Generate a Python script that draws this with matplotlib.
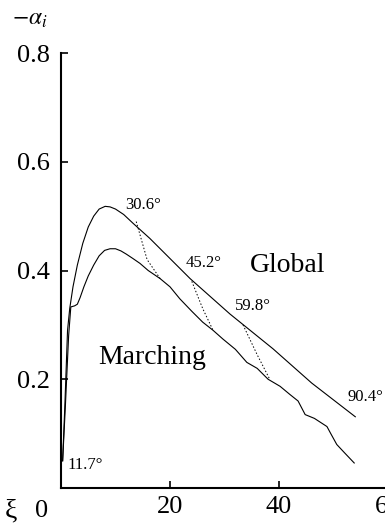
import matplotlib.pyplot as plt

# datos
global_xi = [0.3, 0.7, 1.2, 1.6, 2.2, 3.0, 4.0, 5.0, 6.0, 7.0, 8.1, 9.0, 10.0, 11.5, 13.2,
             16.3, 23.7, 31.0, 38.9, 46.0, 54.0]
global_a = [0.05, 0.15, 0.29, 0.33, 0.37, 0.41, 0.45, 0.48, 0.50, 0.513, 0.518, 0.517, 0.513,
            0.503, 0.487, 0.459, 0.385, 0.32, 0.256, 0.193, 0.131]

march_xi = [0.3, 0.8, 1.4, 1.8, 2.5, 3.0, 3.5, 4.2, 5.0, 6.0, 7.0, 8.0, 9.0, 10.0, 11.0, 12.0,
            13.2, 14.5, 16.0, 18.2, 20.0, 21.8, 24.0, 26.0, 27.9, 29.7, 32.0, 34.1, 36.0, 38.0,
            40.2, 42.0, 43.5, 44.8, 46.5, 48.8, 49.5, 50.6, 52.0, 53.8]
march_a = [0.05, 0.15, 0.28, 0.333, 0.335, 0.338, 0.35, 0.37, 0.39, 0.41, 0.427, 0.437, 0.44,
           0.44, 0.436, 0.43, 0.422, 0.413, 0.40, 0.385, 0.37, 0.348, 0.325, 0.305, 0.29, 0.274,
           0.255, 0.231, 0.22, 0.20, 0.187, 0.172, 0.16, 0.135, 0.128, 0.113, 0.10, 0.08, 0.065,
           0.046]

# transiciones (punteadas)
trans_xi = [[13.8, 15.8, 18.2], [24.0, 26.0, 27.9], [33.4, 36.0, 38.3]]
trans_a = [[0.49, 0.42, 0.385], [0.38, 0.33, 0.29], [0.30, 0.245, 0.20]]

angle_labels = ['11.7°', '30.6°', '45.2°', '59.8°', '90.4°']
angle_xi = [1.1, 11.7, 22.8, 31.9, 52.5]
angle_a = [0.043, 0.52, 0.413, 0.335, 0.167]

plt.rcParams['font.family'] = ['Liberation Serif', 'DejaVu Serif']
plt.rcParams['mathtext.fontset'] = 'stix'

fig = plt.figure(figsize=(3.85, 5.27), dpi=100)
ax = fig.add_axes([61 / 385, 39 / 527, 327 / 385, 435 / 527])

ax.plot(global_xi, global_a, color='black', lw=0.8)
ax.plot(march_xi, march_a, color='black', lw=0.8)
for tx, ta in zip(trans_xi, trans_a):
    ax.plot(tx, ta, color='black', lw=0.7, ls=(0, (1.5, 2)))

for lab, x, y in zip(angle_labels, angle_xi, angle_a):
    ax.text(x, y, lab, fontsize=12, ha='left', va='center', clip_on=False)

ax.text(34.7, 0.41, 'Global', fontsize=20, ha='left', va='center')
ax.text(6.8, 0.24, 'Marching', fontsize=20, ha='left', va='center')

ax.set_xlim(0, 60)
ax.set_ylim(0, 0.8)
ax.set_xticks([0, 20, 40, 60])
ax.set_xticklabels(['', '20', '40', '60'])
ax.set_yticks([0.2, 0.4, 0.6, 0.8])
ax.set_yticklabels(['0.2', '0.4', '0.6', '0.8'])
ax.tick_params(direction='in', length=5, width=1.2, labelsize=19, pad=8)
ax.tick_params(axis='x', pad=6)
for s in ['top', 'right']:
    ax.spines[s].set_visible(False)
for s in ['left', 'bottom']:
    ax.spines[s].set_linewidth(1.5)

fig.text(12 / 385, 1 - 20 / 527, r'$-\alpha_i$', fontsize=17, ha='left', va='center')
fig.text(5 / 385, 1 - 511 / 527, 'ξ', fontsize=20, ha='left', va='center')
fig.text(42 / 385, 1 - 511 / 527, '0', fontsize=19, ha='center', va='center')

fig.savefig('out.png', dpi=100)
